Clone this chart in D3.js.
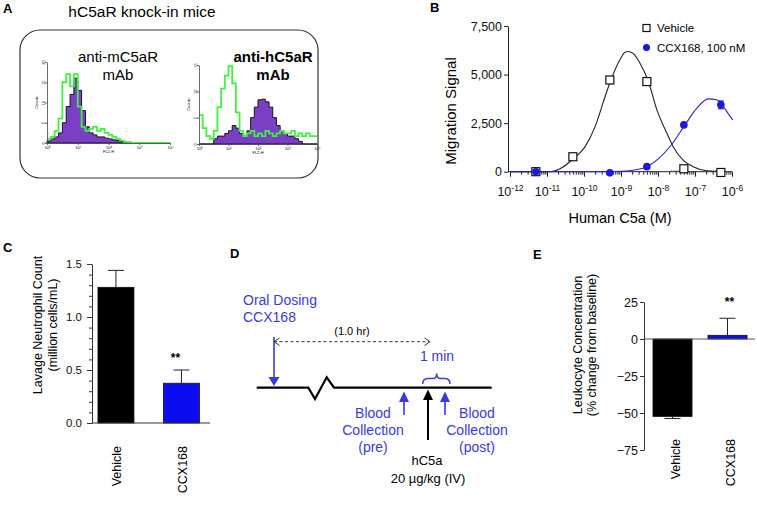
<!DOCTYPE html>
<html>
<head>
<meta charset="utf-8">
<script src="https://cdn.jsdelivr.net/npm/d3@7"></script>
<style>
  body { margin: 0; background: #fff; }
  svg { font-family: "Liberation Sans", Arial, sans-serif; }
</style>
</head>
<body>
<div id="chart"></div>
<script>
// ---- data ----

// A: flow histograms, 32 log bins from 10^0 to 10^4 (counts)
const histBins = 32;
const mouseAbPurple = [0.5, 1, 1.5, 2.5, 5, 9, 12, 16, 13, 8, 4, 2.5, 2, 1.5, 1.5, 1.2, 1, 0.8, 0.6, 0.4, 0.3, 0.2, 0.1, 0.1, 0, 0, 0, 0, 0, 0, 0, 0];
const mouseAbGreen  = [1, 1.5, 3, 6, 15, 17, 14, 17, 9, 4, 3, 3.5, 4, 3, 3.5, 2.5, 2, 1.5, 1, 0.6, 0.3, 0.1, 0, 0, 0, 0, 0, 0, 0, 0, 0, 0];
const humanAbPurple = [0, 0, 0, 0, 1, 1.5, 1.5, 2, 2.5, 3.5, 3, 2, 1.5, 2.5, 5, 7, 8.4, 8.5, 8, 7, 5, 3.5, 2.5, 2, 1.5, 1.5, 1, 0.5, 0, 0, 0, 0];
const humanAbGreen  = [5.5, 3, 1.5, 1, 2.5, 7, 10.5, 13, 14.8, 11.5, 6, 2.5, 1.5, 2, 2.5, 1.5, 2, 1.5, 2.5, 2, 1.5, 2, 2.5, 2, 2, 2.5, 1.5, 2, 1.5, 2, 1.5, 1.5];

// B: migration vs human C5a (M)
const c5aConc = [5e-12, 5e-11, 5e-10, 5e-9, 5e-8, 5e-7];
const vehicleSignal = [0, 770, 4720, 4640, 150, -40];
const vehicleErr    = [0, 0, 180, 150, 0, 0];
const ccxConc   = [5e-12, 5e-10, 5e-9, 5e-8, 5e-7];
const ccxSignal = [0, -60, 260, 2410, 3440];
const ccxErr    = [0, 0, 0, 0, 200];
// fitted curves, read as (log10 M, signal)
const vehicleFitLog = [-12, -11.0, -10.87, -10.6, -10.33, -9.97, -9.70, -9.43, -9.27, -9.03, -8.89, -8.80, -8.65, -8.49, -8.26, -8.03, -7.76, -7.59, -7.32, -7.05, -6.68, -6.3];
const vehicleFit    = [0, 0, 10, 200, 600, 1290, 2320, 3870, 4730, 5760, 6150, 6190, 6050, 5590, 4640, 3180, 1980, 1290, 600, 260, 50, 0];
const ccxFitLog = [-12, -9.5, -9.0, -8.6, -8.3, -8.0, -7.63, -7.27, -6.95, -6.64, -6.42, -6.3, -6.14, -5.98];
const ccxFit    = [0, 0, 20, 100, 260, 650, 1400, 2410, 3270, 3750, 3700, 3550, 3090, 2660];
const migTicks = [0, 2500, 5000, 7500];

// C and E: bar groups
const groups = ["Vehicle", "CCX168"];
const lavageMean = [1.28, 0.375];
const lavageErr  = [0.16, 0.125];
const leukoMean = [-52.3, 2.5];
const leukoErr  = [1.4, 11.5];
const leukoTicks = [25, 0, -25, -50, -75];

const blueBar = "#0c0cf0";
const blueLine = "#2626cc";
const blueText = "#3a3ad8";

const svg = d3.select("#chart").append("svg")
    .attr("width", 757)
    .attr("height", 511);
svg.append("rect").attr("width", 757).attr("height", 511).attr("fill", "#fff");

// panel letters
function letter(t, x, y) {
    svg.append("text").attr("x", x).attr("y", y)
        .attr("font-size", 13).attr("font-weight", "bold").text(t);
}
letter("A", 3, 13);
letter("B", 430, 12);
letter("C", 3, 252);
letter("D", 230, 258);
letter("E", 533, 259);

/*
 * Panel A - flow cytometry histograms
 */
const gA = svg.append("g");
gA.append("text").attr("x", 142).attr("y", 17).attr("text-anchor", "middle")
    .attr("font-size", 15.5).text("hC5aR knock-in mice");
gA.append("rect").attr("x", 20).attr("y", 30).attr("width", 298).attr("height", 148)
    .attr("rx", 20).attr("fill", "none").attr("stroke", "#333").attr("stroke-width", 1.2);

function drawHist(opt) {
    let g = gA.append("g");
    let x = d3.scaleLog().domain([1, 1e4]).range([opt.left, opt.right]);
    let y = d3.scaleLinear().domain([0, opt.yMax]).range([opt.bottom, opt.top]);
    let edge = i => Math.pow(10, 4 * i / histBins);
    let pts = s => s.map((v, i) => [edge(i), v]).concat([[edge(histBins), s[histBins - 1]]]);

    let area = d3.area().x(d => x(d[0])).y0(y(0)).y1(d => y(d[1])).curve(d3.curveStepAfter);
    let line = d3.line().x(d => x(d[0])).y(d => y(d[1])).curve(d3.curveStepAfter);

    g.append("path").datum(pts(opt.purple)).attr("d", area)
        .attr("fill", "#7b3fc4").attr("stroke", "#1a1026").attr("stroke-width", 1);
    g.append("path").datum(pts(opt.green)).attr("d", line)
        .attr("fill", "none").attr("stroke", "#3ff23f").attr("stroke-width", 1.8);

    let ya = g.append("g").attr("transform", "translate(" + opt.left + ",0)")
        .call(d3.axisLeft(y).tickValues(opt.yTicks).tickSize(2).tickPadding(1).tickSizeOuter(0));
    ya.selectAll("text").attr("font-size", 4).attr("text-anchor", "middle")
        .attr("transform", function() { return "rotate(-90," + this.getAttribute("x") + ",0)"; });
    let xa = g.append("g").attr("transform", "translate(0," + opt.bottom + ")")
        .call(d3.axisBottom(x).tickValues([1, 10, 100, 1000, 10000]).tickSize(2).tickPadding(1)
            .tickSizeOuter(0).tickFormat(d => "10" + "⁰¹²³⁴"[Math.round(Math.log10(d))]));
    xa.selectAll("text").attr("font-size", 4);
    g.selectAll(".domain, .tick line").attr("stroke", "#444").attr("stroke-width", 0.8);

    g.append("text").attr("x", (opt.left + opt.right) / 2).attr("y", opt.bottom + 10)
        .attr("text-anchor", "middle").attr("font-size", 4).text("FL2-H");
    g.append("text").attr("transform", "translate(" + (opt.left - 9) + "," + (opt.top + opt.bottom) / 2 + ") rotate(-90)")
        .attr("text-anchor", "middle").attr("font-size", 4).text("Counts");

    let t = g.append("text").attr("text-anchor", "middle").attr("font-size", 15)
        .attr("font-weight", opt.bold ? "bold" : "normal");
    t.append("tspan").attr("x", opt.titleX).attr("y", 62).text(opt.title);
    t.append("tspan").attr("x", opt.titleX).attr("y", 80).text("mAb");
}

drawHist({ left: 47, right: 170, top: 62, bottom: 143, yMax: 20, yTicks: [0, 5, 10, 15, 20],
    purple: mouseAbPurple, green: mouseAbGreen, title: "anti-mC5aR", titleX: 118, bold: false });
drawHist({ left: 199, right: 317, top: 65, bottom: 144, yMax: 15, yTicks: [0, 5, 10, 15],
    purple: humanAbPurple, green: humanAbGreen, title: "anti-hC5aR", titleX: 273, bold: true });

/*
 * Panel B - chemotaxis dose response
 */
const gB = svg.append("g");
const xB = d3.scaleLog().domain([1e-12, 1e-6]).range([510, 732]);
const yB = d3.scaleLinear().domain([0, 7500]).range([171.7, 26]);

let yAxisB = gB.append("g").attr("transform", "translate(508,0)")
    .call(d3.axisLeft(yB).tickValues(migTicks).tickSize(4).tickPadding(2)
        .tickSizeOuter(0).tickFormat(d3.format(",")));
yAxisB.selectAll("text").attr("font-size", 12.5).attr("fill", "#111");

let isMajor = d => Math.abs(Math.log10(d) - Math.round(Math.log10(d))) < 1e-6;
let xAxisB = gB.append("g").attr("transform", "translate(0,171.7)")
    .call(d3.axisBottom(xB).tickValues(xB.ticks()).tickSizeOuter(0).tickPadding(9).tickFormat(""));
xAxisB.select(".domain").remove();
xAxisB.selectAll(".tick line").attr("y2", d => isMajor(d) ? 5 : 3);
xAxisB.selectAll(".tick").filter(d => isMajor(d)).select("text")
    .attr("font-size", 12.5).attr("fill", "#111")
    .each(function(d) {
        let t = d3.select(this);
        t.append("tspan").text("10");
        t.append("tspan").attr("font-size", 8.5).attr("dy", "-0.55em").text(Math.round(Math.log10(d)));
    });
gB.append("line").attr("x1", 508).attr("x2", 732).attr("y1", yB(0)).attr("y2", yB(0))
    .attr("stroke", "#222");
gB.selectAll(".domain, .tick line").attr("stroke", "#222");

// dotted baseline pieces on the right
[[-7.65, -7.3], [-6.65, -6.3]].forEach(s => {
    gB.append("line").attr("x1", xB(Math.pow(10, s[0]))).attr("x2", xB(Math.pow(10, s[1])))
        .attr("y1", yB(0) - 1).attr("y2", yB(0) - 1)
        .attr("stroke", "#777").attr("stroke-dasharray", "1,1.5");
});

let fitLine = d3.line().x(d => xB(d[0])).y(d => yB(d[1])).curve(d3.curveMonotoneX);
gB.append("path").datum(vehicleFitLog.map((l, i) => [Math.pow(10, l), vehicleFit[i]]))
    .attr("d", fitLine).attr("fill", "none").attr("stroke", "#222").attr("stroke-width", 1.1);
gB.append("path").datum(ccxFitLog.map((l, i) => [Math.pow(10, l), ccxFit[i]]))
    .attr("d", fitLine).attr("fill", "none").attr("stroke", blueLine).attr("stroke-width", 1.1);

function errBars(conc, vals, errs, color) {
    conc.forEach((c, i) => {
        if (!errs[i]) return;
        let cx = xB(c);
        gB.append("line").attr("x1", cx).attr("x2", cx)
            .attr("y1", yB(vals[i] - errs[i])).attr("y2", yB(vals[i] + errs[i])).attr("stroke", color);
        [vals[i] - errs[i], vals[i] + errs[i]].forEach(v => {
            gB.append("line").attr("x1", cx - 3).attr("x2", cx + 3)
                .attr("y1", yB(v)).attr("y2", yB(v)).attr("stroke", color).attr("stroke-width", 1.2);
        });
    });
}
errBars(c5aConc, vehicleSignal, vehicleErr, "#222");
errBars(ccxConc, ccxSignal, ccxErr, blueLine);

gB.selectAll(".vehPt").data(c5aConc).enter().append("rect")
    .attr("x", d => xB(d) - 4).attr("y", (d, i) => yB(vehicleSignal[i]) - 4)
    .attr("width", 8).attr("height", 8)
    .attr("fill", "#fff").attr("stroke", "#111").attr("stroke-width", 1.2);
gB.selectAll(".ccxPt").data(ccxConc).enter().append("circle")
    .attr("cx", d => xB(d)).attr("cy", (d, i) => yB(ccxSignal[i]))
    .attr("r", 3.8).attr("fill", "#1a1ad8");

// legend
gB.append("rect").attr("x", 643).attr("y", 24.5).attr("width", 7).attr("height", 7)
    .attr("fill", "#fff").attr("stroke", "#111").attr("stroke-width", 1.2);
gB.append("text").attr("x", 657).attr("y", 32).attr("font-size", 11.5).text("Vehicle");
gB.append("circle").attr("cx", 646.5).attr("cy", 47.5).attr("r", 3.5).attr("fill", "#1a1ad8");
gB.append("text").attr("x", 657).attr("y", 51.5).attr("font-size", 11.5).text("CCX168, 100 nM");

gB.append("text").attr("transform", "translate(456,111) rotate(-90)")
    .attr("text-anchor", "middle").attr("font-size", 15).text("Migration Signal");
gB.append("text").attr("x", 620).attr("y", 223).attr("text-anchor", "middle")
    .attr("font-size", 14.5).text("Human C5a (M)");

/*
 * Bar chart helper for C and E
 */
function rotatedLabels(g, x) {
    g.selectAll(".xlab").data(groups).enter().append("text")
        .attr("transform", d => "translate(" + (x(d) + x.bandwidth() / 2 + 1) + ",446) rotate(-90)")
        .attr("text-anchor", "end").attr("dy", "0.35em")
        .attr("font-size", 12.5).text(d => d);
}

/*
 * Panel C - lavage neutrophil count
 */
const gC = svg.append("g");
const yC = d3.scaleLinear().domain([0, 1.5]).range([423, 264]);
const xC = d3.scaleBand().domain(groups).range([92, 210])
    .paddingInner(0.45).paddingOuter(0.126).align(0.36);

gC.selectAll(".bar").data(groups).enter().append("rect")
    .attr("x", d => xC(d)).attr("width", xC.bandwidth())
    .attr("y", (d, i) => yC(lavageMean[i]))
    .attr("height", (d, i) => yC(0) - yC(lavageMean[i]))
    .attr("fill", (d, i) => i === 0 ? "#000" : blueBar)
    .attr("stroke", "#111").attr("stroke-width", 0.8);
groups.forEach((d, i) => {
    let cx = xC(d) + xC.bandwidth() / 2;
    gC.append("line").attr("x1", cx).attr("x2", cx)
        .attr("y1", yC(lavageMean[i])).attr("y2", yC(lavageMean[i] + lavageErr[i])).attr("stroke", "#222");
    gC.append("line").attr("x1", cx - 8).attr("x2", cx + 8)
        .attr("y1", yC(lavageMean[i] + lavageErr[i])).attr("y2", yC(lavageMean[i] + lavageErr[i]))
        .attr("stroke", "#222");
});
let yAxisC = gC.append("g").attr("transform", "translate(92,0)")
    .call(d3.axisLeft(yC).tickValues(d3.range(0, 16).map(v => v / 10)).tickSize(5).tickPadding(5)
        .tickSizeOuter(0).tickFormat(d => Math.abs(d * 2 - Math.round(d * 2)) < 1e-6 ? d3.format(".1f")(d) : ""));
yAxisC.selectAll(".tick line").attr("x2", d => Math.abs(d * 2 - Math.round(d * 2)) < 1e-6 ? -5 : -3);
yAxisC.selectAll("text").attr("font-size", 11.5).attr("fill", "#111");
yAxisC.selectAll(".domain, .tick line").attr("stroke", "#333");
gC.append("line").attr("x1", 92).attr("x2", 210).attr("y1", yC(0)).attr("y2", yC(0)).attr("stroke", "#333");
gC.append("text").attr("x", xC("CCX168") + xC.bandwidth() / 2 - 6).attr("y", 362)
    .attr("text-anchor", "middle").attr("font-size", 12).attr("font-weight", "bold").text("**");

let labC = gC.append("text").attr("text-anchor", "middle").attr("font-size", 12.5)
    .attr("transform", "translate(42,325) rotate(-90)");
labC.append("tspan").attr("x", 0).attr("y", 0).text("Lavage Neutrophil Count");
labC.append("tspan").attr("x", 0).attr("y", 15).text("(million cells/mL)");
rotatedLabels(gC, xC);

/*
 * Panel D - study timeline schematic
 */
const gD = svg.append("g");
gD.append("path").attr("d", "M256.7,387.7 L308.3,387.7 L315,399 L326.7,377.3 L334,387.7 L491.7,387.7")
    .attr("fill", "none").attr("stroke", "#000").attr("stroke-width", 2.2);

// oral dosing arrow
gD.append("line").attr("x1", 274).attr("x2", 274).attr("y1", 337).attr("y2", 378)
    .attr("stroke", blueText).attr("stroke-width", 1.6);
gD.append("path").attr("d", "M268.5,377 L279.5,377 L274,386 Z").attr("fill", blueText);
let od = gD.append("text").attr("font-size", 14).attr("fill", blueText);
od.append("tspan").attr("x", 243).attr("y", 305).text("Oral Dosing");
od.append("tspan").attr("x", 243).attr("y", 322).text("CCX168");

// 1 hr dashed arrow
gD.append("line").attr("x1", 274).attr("x2", 430).attr("y1", 341.7).attr("y2", 341.7)
    .attr("stroke", "#333").attr("stroke-dasharray", "3,2.5");
gD.append("path").attr("d", "M279.5,338 L274,341.7 L279.5,345.5 M424.5,338 L430,341.7 L424.5,345.5")
    .attr("fill", "none").attr("stroke", "#333");
gD.append("text").attr("x", 352).attr("y", 335).attr("text-anchor", "middle")
    .attr("font-size", 11).text("(1.0 hr)");

// 1 min brace
gD.append("text").attr("x", 437).attr("y", 361).attr("text-anchor", "middle")
    .attr("font-size", 14).attr("fill", blueText).text("1 min");
gD.append("path")
    .attr("d", "M422.7,384 Q422.7,378.5 428,378.5 L433,378.5 Q436.7,378.5 436.7,373.5 Q436.7,378.5 440.5,378.5 L445,378.5 Q450,378.5 450,384")
    .attr("fill", "none").attr("stroke", blueText).attr("stroke-width", 1.5);

// up arrows
function upArrow(x, tip, base, end, color, w) {
    gD.append("line").attr("x1", x).attr("x2", x).attr("y1", base).attr("y2", end)
        .attr("stroke", color).attr("stroke-width", w);
    gD.append("path").attr("d", "M" + (x - 5) + "," + base + " L" + (x + 5) + "," + base + " L" + x + "," + tip + " Z")
        .attr("fill", color);
}
upArrow(404, 391.5, 402, 415, blueText, 1.6);
upArrow(445, 391.5, 402, 415, blueText, 1.6);
upArrow(428, 389.5, 400, 440, "#000", 2);

function block(lines, x, y0, color, size) {
    let t = gD.append("text").attr("text-anchor", "middle").attr("font-size", size).attr("fill", color);
    lines.forEach((s, i) => t.append("tspan").attr("x", x).attr("y", y0 + i * 17).text(s));
}
block(["Blood", "Collection", "(pre)"], 373, 418, blueText, 14);
block(["Blood", "Collection", "(post)"], 477, 418, blueText, 14);
block(["hC5a"], 427, 465, "#000", 13);
block(["20 µg/kg (IV)"], 428, 483, "#000", 13);

/*
 * Panel E - leukocyte concentration change
 */
const gE = svg.append("g");
const yE = d3.scaleLinear().domain([-75, 25]).range([450, 302]);
const xE = d3.scaleBand().domain(groups).range([644, 755])
    .paddingInner(0.29).paddingOuter(0.154).align(0.53);

gE.selectAll(".bar").data(groups).enter().append("rect")
    .attr("x", d => xE(d)).attr("width", xE.bandwidth())
    .attr("y", (d, i) => Math.min(yE(0), yE(leukoMean[i])))
    .attr("height", (d, i) => Math.abs(yE(0) - yE(leukoMean[i])))
    .attr("fill", (d, i) => i === 0 ? "#000" : blueBar)
    .attr("stroke", "#111").attr("stroke-width", 0.8);
groups.forEach((d, i) => {
    let cx = xE(d) + xE.bandwidth() / 2;
    let tip = leukoMean[i] + Math.sign(leukoMean[i]) * leukoErr[i];
    gE.append("line").attr("x1", cx).attr("x2", cx)
        .attr("y1", yE(leukoMean[i])).attr("y2", yE(tip)).attr("stroke", "#222");
    gE.append("line").attr("x1", cx - 8).attr("x2", cx + 8)
        .attr("y1", yE(tip)).attr("y2", yE(tip)).attr("stroke", "#222");
});
gE.append("line").attr("x1", 644).attr("x2", 755).attr("y1", yE(0)).attr("y2", yE(0))
    .attr("stroke", "#555").attr("stroke-width", 1.2);
let yAxisE = gE.append("g").attr("transform", "translate(644,0)")
    .call(d3.axisLeft(yE).tickValues(leukoTicks).tickSize(4).tickPadding(2).tickSizeOuter(0));
yAxisE.selectAll("text").attr("font-size", 12.5).attr("fill", "#111");
yAxisE.selectAll(".domain, .tick line").attr("stroke", "#333");
gE.append("text").attr("x", xE("CCX168") + xE.bandwidth() / 2 + 2).attr("y", 306)
    .attr("text-anchor", "middle").attr("font-size", 12).attr("font-weight", "bold").text("**");

let labE = gE.append("text").attr("text-anchor", "middle").attr("font-size", 12.5)
    .attr("transform", "translate(582,345) rotate(-90)");
labE.append("tspan").attr("x", 0).attr("y", 0).text("Leukocyte Concentration");
labE.append("tspan").attr("x", 0).attr("y", 14).text("(% change from baseline)");

gE.selectAll(".xlab").data(groups).enter().append("text")
    .attr("transform", d => "translate(" + (xE(d) + xE.bandwidth() / 2 + 3) + ",439) rotate(-90)")
    .attr("text-anchor", "end").attr("dy", "0.35em")
    .attr("font-size", 12.5).text(d => d);
</script>
</body>
</html>
